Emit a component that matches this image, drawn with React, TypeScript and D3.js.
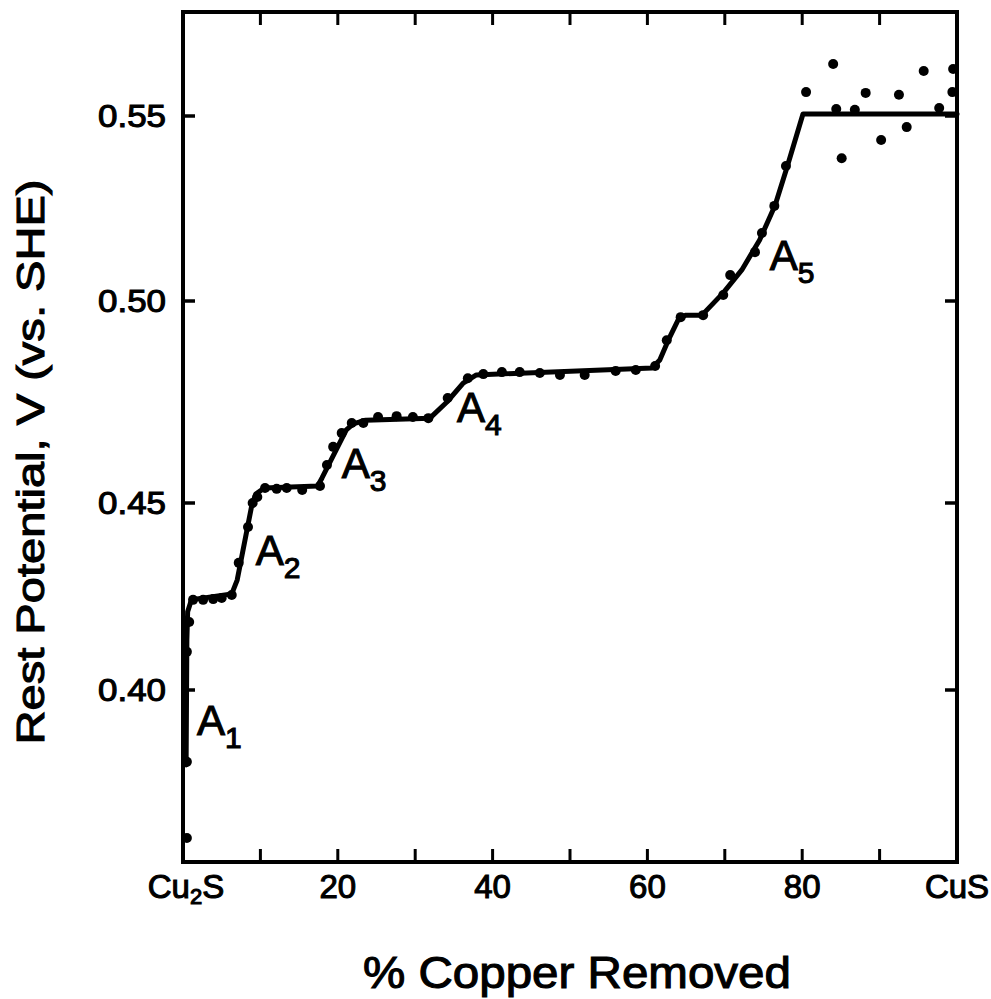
import React from "react";
import * as d3 from "d3";

// measured points: % copper removed vs rest potential (V vs SHE)
const pointX = [0.5, 0.5, 0.5, 0.8, 1.3, 2.6, 3.9, 5.0, 6.3, 7.2, 8.4, 9.0, 9.6, 10.6, 12.1, 13.4, 15.4, 17.7, 18.6, 19.4, 20.5, 21.8, 23.3, 25.2, 27.6, 29.7, 31.7, 34.2, 36.8, 38.8, 41.2, 43.5, 46.1, 48.7, 51.9, 55.9, 58.5, 61.0, 62.5, 64.3, 67.2, 69.8, 70.7, 73.9, 74.8, 76.4, 77.9, 80.5, 84.0, 84.4, 85.1, 86.8, 88.2, 90.2, 92.5, 93.5, 95.7, 97.7, 99.5, 99.4];
const pointY = [0.3613, 0.3812, 0.4102, 0.4182, 0.4241, 0.4241, 0.4243, 0.4246, 0.4254, 0.4340, 0.4436, 0.4500, 0.4515, 0.4537, 0.4535, 0.4537, 0.4532, 0.4542, 0.4594, 0.4639, 0.4673, 0.4698, 0.4698, 0.4713, 0.4715, 0.4713, 0.4710, 0.4760, 0.4809, 0.4819, 0.4824, 0.4824, 0.4822, 0.4817, 0.4817, 0.4827, 0.4829, 0.4839, 0.4903, 0.4960, 0.4965, 0.5016, 0.5070, 0.5132, 0.5184, 0.5257, 0.5365, 0.5562, 0.5635, 0.5518, 0.5386, 0.5516, 0.5560, 0.5435, 0.5555, 0.5470, 0.5617, 0.5521, 0.5622, 0.5562];

// hand-drawn fitted curve
const curveX = [0.4, 0.5, 0.6, 1.0, 1.6, 6.3, 7.0, 8.9, 9.4, 10.5, 17.4, 17.96, 21.1, 22.0, 23.6, 31.9, 34.1, 36.2, 37.9, 60.6, 61.6, 62.7, 64.1, 65.0, 66.8, 67.3, 69.8, 72.2, 74.5, 76.5, 78.0, 80.1, 100];
const curveY = [0.3804, 0.4134, 0.4209, 0.4235, 0.4243, 0.4257, 0.4294, 0.4495, 0.4522, 0.4537, 0.4542, 0.4562, 0.4681, 0.4696, 0.4705, 0.4710, 0.4750, 0.4797, 0.4817, 0.4834, 0.4854, 0.4903, 0.4958, 0.4965, 0.4965, 0.4970, 0.5022, 0.5084, 0.5165, 0.5259, 0.5359, 0.5505, 0.5505];

const xTickValues = [10, 20, 30, 40, 50, 60, 70, 80, 90];
const xLabelValues = [20, 40, 60, 80];
const yTickValues = [0.4, 0.45, 0.5, 0.55];
const yTickLabels = ["0.40", "0.45", "0.50", "0.55"];

const regionLabels = ["1", "2", "3", "4", "5"];
const regionLabelX = [1.8, 9.4, 20.5, 35.4, 75.8];
const regionLabelY = [0.3882, 0.4334, 0.4562, 0.4700, 0.5084];

const FONT = "'Liberation Sans', Arial, sans-serif";

export default function App() {
  const x = d3.scaleLinear().domain([0, 100]).range([183, 957]);
  // the scanned axis is slightly uneven; follow the printed tick positions
  const y = d3
    .scaleLinear()
    .domain([0.355, 0.4, 0.45, 0.5, 0.55, 0.577])
    .range([862, 690, 503, 301, 116, 12]);
  const line = d3
    .line<number>()
    .x((_, i) => x(curveX[i]))
    .y((_, i) => y(curveY[i]))
    .curve(d3.curveLinear);
  const path = line(curveX as any) || "";
  const x0 = 183;
  const x1 = 957;
  const y0 = 862;
  const y1 = 12;
  const tickLenX = 13;
  const tickLenY = 12;
  const sw = 1.1;

  return (
    <svg
      width={991}
      height={999}
      style={{ position: "absolute", left: 0, top: 0, background: "#fff" }}
      fontFamily={FONT}
    >
      <rect x={0} y={0} width={991} height={999} fill="#fff" />
      {/* frame */}
      <rect x={x0} y={y1} width={x1 - x0} height={y0 - y1} fill="none" stroke="#000" strokeWidth={4} />
      {/* x ticks bottom and top */}
      {xTickValues.map((v) => (
        <g key={"xt" + v}>
          <line x1={x(v)} x2={x(v)} y1={y0} y2={y0 - tickLenX} stroke="#000" strokeWidth={3} />
          <line x1={x(v)} x2={x(v)} y1={y1} y2={y1 + tickLenX} stroke="#000" strokeWidth={3} />
        </g>
      ))}
      {/* y ticks left and right */}
      {yTickValues.map((v) => (
        <g key={"yt" + v}>
          <line x1={x0} x2={x0 + tickLenY} y1={y(v)} y2={y(v)} stroke="#000" strokeWidth={3.5} />
          <line x1={x1} x2={x1 - tickLenY} y1={y(v)} y2={y(v)} stroke="#000" strokeWidth={3.5} />
        </g>
      ))}
      {/* y tick labels */}
      {yTickValues.map((v, i) => (
        <text
          key={"yl" + v}
          x={166}
          y={y(v)}
          textAnchor="end"
          dominantBaseline="central"
          fontSize={32}
          textLength={68}
          lengthAdjust="spacingAndGlyphs"
          stroke="#000"
          strokeWidth={sw}
        >
          {yTickLabels[i]}
        </text>
      ))}
      {/* x tick labels */}
      {xLabelValues.map((v) => (
        <text key={"xl" + v} x={x(v)} y={898} textAnchor="middle" fontSize={33} stroke="#000" strokeWidth={sw}>
          {v}
        </text>
      ))}
      <text x={x(0) + 3} y={898} textAnchor="middle" fontSize={33} stroke="#000" strokeWidth={sw}>
        Cu<tspan fontSize={22} dy={6}>2</tspan>
        <tspan dy={-6}>S</tspan>
      </text>
      <text x={x(100)} y={898} textAnchor="middle" fontSize={33} stroke="#000" strokeWidth={sw}>
        CuS
      </text>
      {/* axis titles */}
      <text
        x={577}
        y={988}
        textAnchor="middle"
        fontSize={44}
        textLength={428}
        lengthAdjust="spacingAndGlyphs"
        stroke="#000"
        strokeWidth={sw}
      >
        %  Copper Removed
      </text>
      <text
        transform={`translate(44, 462) rotate(-90)`}
        textAnchor="middle"
        fontSize={39}
        textLength={565}
        lengthAdjust="spacingAndGlyphs"
        stroke="#000"
        strokeWidth={sw}
      >
        Rest Potential, V (vs. SHE)
      </text>
      {/* curve */}
      <path d={path} fill="none" stroke="#000" strokeWidth={5} strokeLinejoin="round" strokeLinecap="round" />
      {/* points */}
      {pointX.map((v, i) => (
        <circle key={"p" + i} cx={x(v)} cy={y(pointY[i])} r={5} fill="#000" />
      ))}
      {/* region labels */}
      {regionLabels.map((s, i) => (
        <text
          key={"A" + s}
          x={x(regionLabelX[i])}
          y={y(regionLabelY[i])}
          fontSize={42}
          stroke="#000"
          strokeWidth={sw}
        >
          A<tspan fontSize={30} dy={13}>{s}</tspan>
        </text>
      ))}
    </svg>
  );
}
